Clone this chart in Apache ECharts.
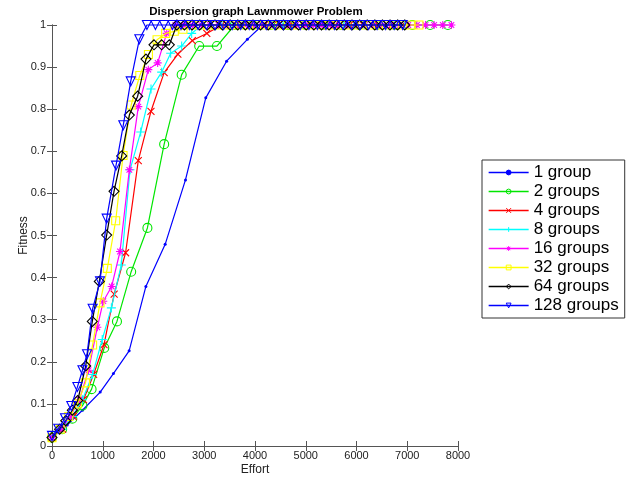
<!DOCTYPE html>
<html>
<head>
<meta charset="utf-8">
<script src="https://cdn.jsdelivr.net/npm/echarts@6/dist/echarts.min.js"></script>
<style>
html,body{margin:0;padding:0;background:#fff;}
#chart{width:637px;height:481px;}
</style>
</head>
<body>
<div id="chart"></div>
<script>
const seriesNames = ['1 group','2 groups','4 groups','8 groups','16 groups','32 groups','64 groups','128 groups'];

const group1 = [[0,0.02],[300,0.05],[600,0.085],[950,0.128],[1210,0.172],[1520,0.226],[1850,0.379],[2230,0.479],[2630,0.632],[3030,0.827],[3440,0.914],[3850,0.966],[4150,1],[4550,1],[4950,1],[5350,1],[5750,1],[6150,1],[6550,1],[6850,1]];

const group2 = [[0,0.02],[200,0.04],[400,0.065],[600,0.096],[780,0.135],[1030,0.233],[1280,0.296],[1560,0.414],[1880,0.518],[2210,0.717],[2555,0.882],[2900,0.95],[3250,0.95],[3600,1],[3950,1],[4300,1],[4650,1],[5000,1],[5350,1],[5700,1],[6050,1],[6400,1],[6750,1],[7100,1],[7450,1],[7800,1]];

const group4 = [[0,0.02],[210,0.04],[420,0.07],[620,0.11],[820,0.17],[1025,0.241],[1225,0.361],[1450,0.459],[1700,0.678],[1950,0.795],[2210,0.887],[2480,0.931],[2765,0.963],[3050,0.98],[3340,1],[3620,1],[3900,1],[4180,1],[4460,1],[4740,1],[5020,1],[5300,1],[5580,1],[5860,1],[6140,1],[6420,1],[6700,1],[6900,1]];

const group8 = [[0,0.02],[200,0.04],[400,0.07],[600,0.11],[800,0.17],[990,0.253],[1170,0.328],[1365,0.43],[1537,0.656],[1748,0.746],[1951,0.848],[2161,0.888],[2338,0.933],[2555,0.95],[2752,0.98],[2950,1],[3150,1],[3350,1],[3550,1],[3750,1],[3950,1],[4150,1],[4350,1],[4550,1],[4750,1],[4950,1],[5150,1],[5350,1],[5550,1],[5750,1],[5950,1],[6150,1],[6350,1],[6550,1],[6750,1],[6950,1]];

const group16 = [[0,0.02],[180,0.04],[360,0.07],[540,0.11],[720,0.18],[893,0.282],[1011,0.344],[1176,0.379],[1340,0.462],[1524,0.656],[1701,0.806],[1898,0.894],[2082,0.91],[2260,0.98],[2430,1],[2600,1],[2770,1],[2940,1],[3110,1],[3280,1],[3450,1],[3620,1],[3790,1],[3960,1],[4130,1],[4300,1],[4470,1],[4640,1],[4810,1],[4980,1],[5150,1],[5320,1],[5490,1],[5660,1],[5830,1],[6000,1],[6170,1],[6340,1],[6510,1],[6680,1],[6850,1],[7020,1],[7190,1],[7360,1],[7530,1],[7700,1],[7870,1]];

const group32 = [[0,0.02],[160,0.04],[330,0.07],[500,0.1],[660,0.15],[800,0.24],[946,0.34],[1090,0.422],[1255,0.535],[1400,0.69],[1560,0.81],[1730,0.88],[1900,0.93],[2070,0.965],[2240,0.98],[2410,0.985],[2580,0.99],[2750,1],[2910,1],[3070,1],[3230,1],[3390,1],[3550,1],[3710,1],[3870,1],[4030,1],[4190,1],[4350,1],[4510,1],[4670,1],[4830,1],[4990,1],[5150,1],[5310,1],[5470,1],[5630,1],[5790,1],[5950,1],[6110,1],[6270,1],[6430,1],[6590,1],[6750,1],[6910,1],[7070,1],[7230,1]];

const group64 = [[0,0.02],[150,0.04],[270,0.06],[400,0.085],[506,0.108],[664,0.19],[794,0.296],[932,0.391],[1077,0.501],[1222,0.605],[1373,0.689],[1524,0.786],[1688,0.831],[1852,0.919],[2010,0.953],[2161,0.953],[2312,0.953],[2460,1],[2610,1],[2760,1],[2910,1],[3060,1],[3210,1],[3360,1],[3510,1],[3660,1],[3810,1],[3960,1],[4110,1],[4260,1],[4410,1],[4560,1],[4710,1],[4860,1],[5010,1],[5160,1],[5310,1],[5460,1],[5610,1],[5760,1],[5910,1],[6060,1],[6210,1],[6360,1],[6510,1],[6660,1],[6810,1],[6950,1]];

const group128 = [[0,0.024],[124,0.041],[256,0.066],[380,0.095],[500,0.14],[600,0.18],[690,0.218],[801,0.326],[946,0.391],[1077,0.54],[1261,0.666],[1405,0.762],[1551,0.866],[1721,0.966],[1870,1],[2038,1],[2206,1],[2374,1],[2542,1],[2710,1],[2878,1],[3046,1],[3214,1],[3382,1],[3550,1],[3718,1],[3886,1],[4054,1],[4222,1],[4390,1],[4558,1],[4726,1],[4894,1],[5062,1],[5230,1],[5398,1],[5566,1],[5734,1],[5902,1],[6070,1],[6238,1],[6406,1],[6574,1],[6742,1],[6910,1]];

const seriesData = [group1, group2, group4, group8, group16, group32, group64, group128];
const colors = ['#0000ff','#00e600','#ff0000','#00ffff','#ff00ff','#ffff00','#000000','#0000ff'];
const symbols = ['circle','circle','path://M0,0L10,10M10,0L0,10','path://M5,0L5,10M0,5L10,5','path://M5,0L5,10M0,5L10,5M1.5,1.5L8.5,8.5M8.5,1.5L1.5,8.5','rect','diamond','triangle'];
const sizes = [3,9,7,9,8,8,10,9];

const series = seriesNames.map((name, i) => {
  const c = colors[i];
  const filled = i === 0;
  return {
    name: name,
    type: 'line',
    data: seriesData[i],
    symbol: symbols[i],
    symbolSize: sizes[i],
    symbolRotate: i === 7 ? 180 : 0,
    showAllSymbol: true,
    clip: false,
    lineStyle: { color: c, width: 1.2 },
    itemStyle: filled ? { color: c, borderColor: c, borderWidth: 0 } :
      { color: 'rgba(255,255,255,0)', borderColor: c, borderWidth: 1.1 },
    emphasis: { disabled: true },
    z: 2 + i
  };
});

const axisColor = '#555';
const labelFont = { fontFamily: 'Liberation Sans', fontSize: 11, color: '#222' };

const chart = echarts.init(document.getElementById('chart'), null, { renderer: 'canvas' });
chart.setOption({
  animation: false,
  backgroundColor: '#fff',
  title: {
    text: 'Dispersion graph Lawnmower Problem',
    left: 251, top: 1, textAlign: 'center',
    textStyle: { fontFamily: 'Liberation Sans', fontWeight: 'bold', fontSize: 11.5, color: '#000' }
  },
  grid: { left: 52, right: 179, top: 25, bottom: 32 },
  legend: {
    orient: 'vertical',
    left: 482, top: 160,
    padding: [4, 6, 4, 6],
    itemWidth: 40, itemHeight: 6, itemGap: 2,
    borderColor: '#333', borderWidth: 1,
    backgroundColor: '#fff',
    lineStyle: { width: 1.3 },
    itemStyle: { borderWidth: 1 },
    textStyle: { fontFamily: 'Liberation Sans', fontSize: 17, color: '#000', lineHeight: 17 },
    data: seriesNames
  },
  xAxis: [{
    type: 'value', min: 0, max: 8000, interval: 1000,
    name: 'Effort', nameLocation: 'middle', nameGap: 18, nameMoveOverlap: false,
    nameTextStyle: { fontFamily: 'Liberation Sans', fontSize: 12, color: '#222' },
    axisLine: { show: true, lineStyle: { color: axisColor } },
    axisTick: { inside: true, length: 5, lineStyle: { color: axisColor } },
    axisLabel: Object.assign({ margin: 4, formatter: v => String(v) }, labelFont),
    splitLine: { show: false }
  }, {
    type: 'value', min: 0, max: 8000, interval: 1000, position: 'top',
    axisLine: { show: true, lineStyle: { color: axisColor } },
    axisTick: { inside: true, length: 5, lineStyle: { color: axisColor } },
    axisLabel: { show: false },
    splitLine: { show: false }
  }],
  yAxis: [{
    type: 'value', min: 0, max: 1, interval: 0.1,
    name: 'Fitness', nameLocation: 'middle', nameGap: 22, nameMoveOverlap: false,
    nameTextStyle: { fontFamily: 'Liberation Sans', fontSize: 12, color: '#222' },
    axisLine: { show: true, lineStyle: { color: axisColor } },
    axisTick: { inside: true, length: 5, lineStyle: { color: axisColor } },
    axisLabel: Object.assign({ margin: 6, formatter: v => (v === 0 ? '0' : v === 1 ? '1' : v.toFixed(1)) }, labelFont),
    splitLine: { show: false }
  }, {
    type: 'value', min: 0, max: 1, interval: 0.1, position: 'right',
    axisLine: { show: true, lineStyle: { color: axisColor } },
    axisTick: { inside: true, length: 5, lineStyle: { color: axisColor } },
    axisLabel: { show: false },
    splitLine: { show: false }
  }],
  series: series
});
</script>
</body>
</html>
